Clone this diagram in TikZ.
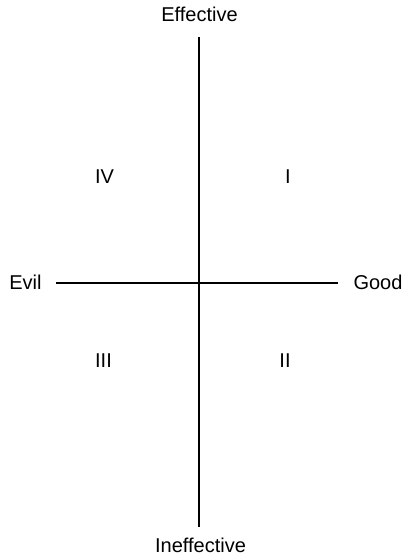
\documentclass[tikz,border=0pt]{standalone}
\usepackage{fontspec}
\setmainfont{Liberation Sans}
\usetikzlibrary{calc}
\tikzset{
 qd axis/.style={line width=1pt},
 qd pole/.style={font=\normalsize,anchor=base,inner sep=0pt},
 qd numeral/.style={font=\normalsize,anchor=base,inner sep=0pt}
}

\begin{document}
\begin{tikzpicture}[x=0.5pt,y=-0.5pt]
 \useasboundingbox (0,0) rectangle (405,557);
 \coordinate (n) at (199,37);
 \coordinate (s) at (199,527);
 \coordinate (w) at (56,282.5);
 \coordinate (e) at (338,282.5);

 \draw[qd axis] (n)--(s);
 \draw[qd axis] (w)--(e);

 \node[qd pole] (eff) at (199.5,21) {Effective};
 \node[qd pole] (ineff) at (200.5,552) {Ineffective};
 \node[qd pole] (evil) at (25.5,289) {Evil};
 \node[qd pole] (good) at (378,289) {Good};

 \node[qd numeral] (q1) at (288,183) {I};
 \node[qd numeral] (q2) at (285,367) {II};
 \node[qd numeral] (q3) at (103.5,367) {III};
 \node[qd numeral] (q4) at (104.5,183) {IV};
\end{tikzpicture}
\end{document}
